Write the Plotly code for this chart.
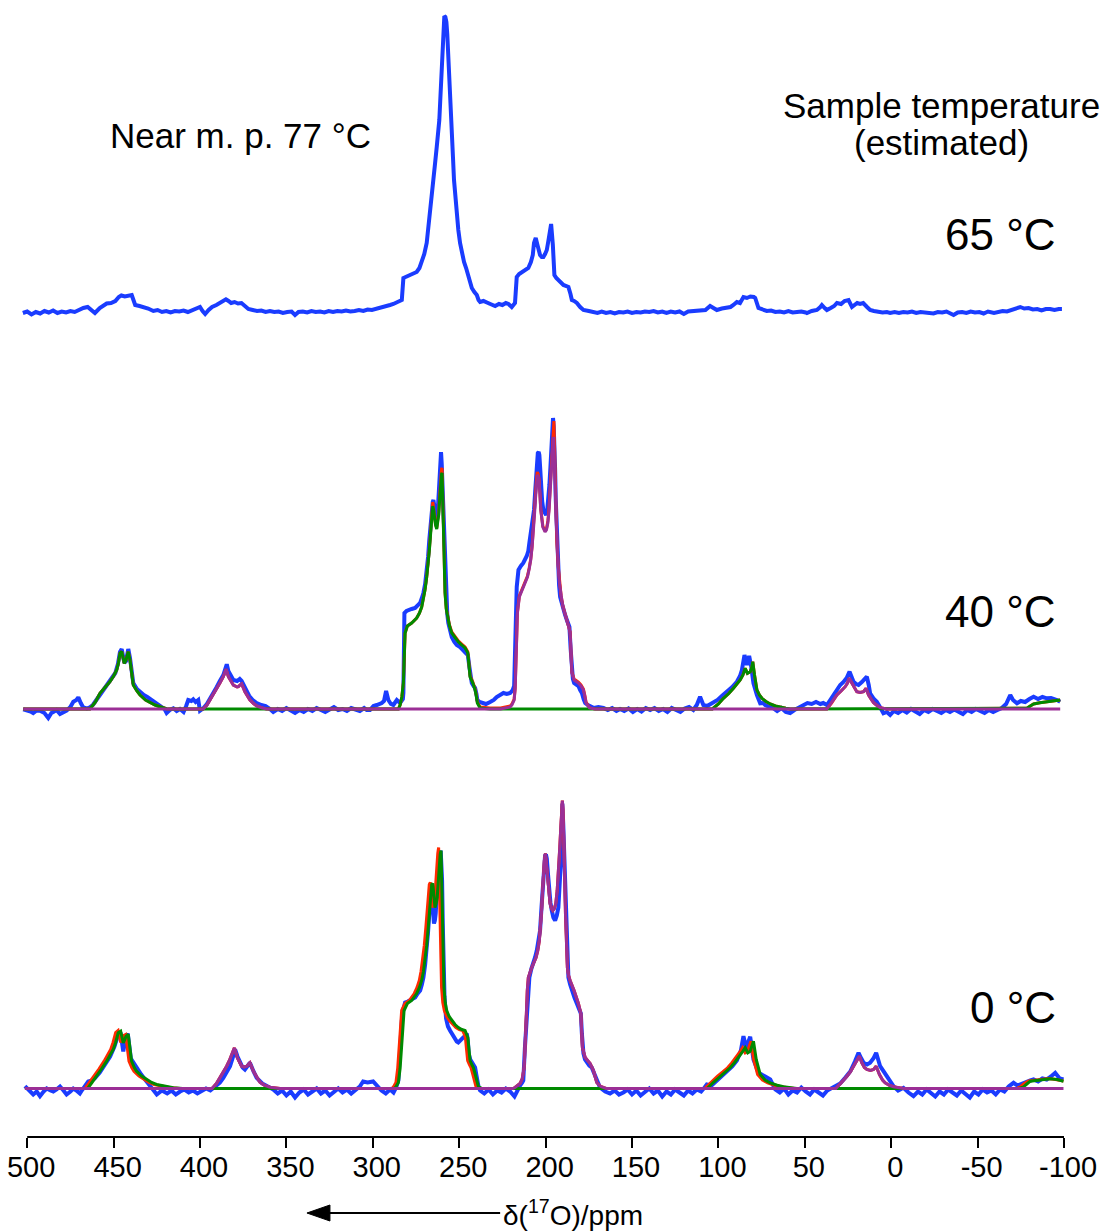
import plotly.graph_objects as go

# ---------------- data (ppm, intensity) ----------------
TICK_VALS = [500, 450, 400, 350, 300, 250, 200, 150, 100, 50, 0, -50, -100]
TICK_TEXT = ["500", "450", "400", "350", "300", "250", "200", "150", "100", "50", "0", "-50", "-100"]

# vertical offsets of the stacked spectra (same units as intensity)
OFFSETS = {"65": 825, "40": 428, "0": 48.5}
TEMPS = ["65 °C", "40 °C", "0 °C"]

# ---- 65 °C spectrum (experimental only) ----
TOP_BLUE = [
    (502.5, -1), (500, 0.5), (497.5, -2.5), (495, 0), (492.5, -1.5), (490, 1), (487.5, -0.5), (485, 1.5),
    (482.5, -1), (480, 0.5), (477.5, -0.5), (475, 1), (472.5, 0), (470, 2.5), (467.5, 4), (465, 5), (462.5, 2),
    (460.8, -1), (458, 4), (456, 6), (454, 8.5), (451.5, 9), (449, 11), (447, 15), (445.5, 16.5), (443.5, 15.5),
    (441.5, 16.5), (439.5, 17), (438.5, 12), (437.5, 7), (435, 6), (432.5, 5), (430, 3.5), (427, 1), (424.5, 2),
    (422, 0), (419.5, 1), (417, -0.5), (414.5, 1), (412, 0.5), (409.5, 1.5), (407, 0), (404.5, 2), (402, 3),
    (400, 5), (398.5, 1), (397, -2), (395, 2), (393, 5), (390.5, 7), (388.4, 9), (386.5, 11), (385, 12.7),
    (383.5, 11), (382, 9), (380, 10), (378, 8.5), (376, 9), (374, 6), (372, 3), (369.5, 2), (367, 1), (364.5, 1.5),
    (362, 0), (359.5, 1), (357, 0), (354.5, 0.5), (352, -1), (349.5, 0), (347, 0.5), (345, -3), (343, 0),
    (340.5, 0.5), (338, -0.5), (335.5, 1), (333, 0), (330.5, 0.5), (328, -0.5), (325.5, 1), (323, 0), (320.5, 1),
    (318, 0.5), (315.5, 1.5), (313, 0.5), (310.5, 1), (308, 2), (305.5, 1), (303, 2.5), (300.5, 2), (298, 3),
    (295.8, 3.7), (293.5, 5), (291.5, 5.5), (290, 7), (288.1, 8), (286, 10), (284.5, 11.5), (283.2, 12),
    (282.3, 34), (281, 35), (279.4, 36), (277, 38), (274.6, 40), (273, 44), (271.7, 50), (270.2, 58), (268.8, 69),
    (267.8, 84), (266.9, 99), (265.9, 116), (264.9, 132), (264, 148), (263, 165), (262.2, 178), (261.5, 192),
    (261, 210), (260.5, 232), (260.1, 252), (259.7, 272), (259.1, 288), (258.6, 296), (258, 295), (257.4, 290),
    (256.9, 278), (256.4, 262), (255.9, 240), (255.5, 219), (254.9, 198), (254.3, 179), (253.6, 155), (253, 132),
    (252.2, 112), (251.4, 95), (250.5, 82), (249.5, 69), (248.4, 58), (247.2, 50), (246, 44), (244.7, 37),
    (243.6, 30), (242.7, 24), (241.2, 20), (239.8, 17), (238.8, 12), (237.9, 10), (236, 11), (234, 9), (232, 8),
    (229.2, 6), (227, 8), (225, 7), (223, 9), (221.5, 8), (219.6, 5), (217.7, 9), (216.7, 35), (215.3, 38),
    (213.8, 40), (212, 42), (210, 44), (208.5, 50), (207.4, 57), (206.7, 69), (205.7, 74), (204.7, 67),
    (203.2, 57), (202.2, 55), (201.3, 55), (200.3, 58), (199.3, 62), (198.5, 70), (197.8, 80), (196.8, 88),
    (195.8, 67), (194.9, 37), (193.8, 34), (192.6, 32), (191, 30), (189.7, 27), (188, 26), (186.8, 25),
    (185.6, 18), (184.8, 12), (183.5, 11), (181.9, 9), (180, 5), (178.1, 2), (175, 1), (172.3, 0),
    (170, -1), (167.5, 0.5), (165, -1), (162.5, 0), (160, -1.5), (157.5, 0), (155, -0.5), (152.5, 0.5), (150, -1),
    (147.5, 0), (145, -0.5), (142.5, 0.5), (140, 0), (137.5, 1), (135, -0.5), (132.5, 0.5), (130, -1),
    (127.5, 0.5), (125, -0.5), (122.5, 0.5), (120, -2), (117.5, 0.5), (115, 1), (112.5, 0.5), (110, 1.5),
    (107.5, 2), (104.8, 6), (102.5, 3), (100.9, 2), (98, 3.5), (95.5, 4), (93, 5), (91.3, 7), (89.3, 10),
    (87.5, 9), (85.5, 15), (83.5, 14), (81.5, 15.5), (79.5, 15), (78.7, 14), (76.8, 4), (75, 3), (72, 1),
    (69.5, 1.5), (67, 0), (64.5, 0.5), (62, -0.5), (59.5, 1), (57, -0.5), (54.5, 0), (52, 0.5), (49.5, -0.5),
    (48.8, -1), (46, 1), (43, 2), (41, 5), (40.1, 7), (38.5, 4), (37.2, 2), (35, 4), (33, 6), (31.4, 9), (29, 8),
    (27, 11), (24.7, 12), (22.7, 5), (21, 7), (19.7, 9), (18, 8), (16.2, 9), (14, 5), (12.2, 2), (10, 1),
    (7.5, 0), (5, -0.5), (2.5, 0), (0.6, -1), (-2, 0), (-4.5, -1), (-7, 0), (-9.5, -0.5), (-12, 0.5), (-14.5, -1),
    (-17, 0), (-19.5, -0.5), (-22, 0), (-24.5, -1.5), (-27, 0), (-29.5, -0.5), (-32, 0.5), (-34, -1), (-36.1, -3),
    (-38.5, -0.5), (-41, 0), (-43.5, -1), (-46, 0.5), (-48.5, -0.5), (-51, 0), (-53.5, -1.5), (-56, 0.5),
    (-59.5, -1), (-62, 0.5), (-64.5, 1), (-67, 0.5), (-69.5, 2), (-72, 3), (-74.7, 5), (-77, 3.5), (-79.5, 4),
    (-82, 2.5), (-84.5, 3), (-87, 1.5), (-89.5, 3), (-92, 3), (-94.5, 2), (-97, 3), (-98.8, 3),
]

# ---- 40 °C spectrum ----
MID_BLUE = [
    (502.3, -0.3), (500, -1), (498, -2.5), (496.5, -4), (494.5, -1.5), (492.6, -1.7), (490, -4), (487.8, -9),
    (486, -4), (484.9, -3), (483, -1), (481, -5), (479, -3), (477.2, -1.7), (475, 2), (473.3, 7.3), (471.5, 9),
    (470.4, 11.7), (469, 6), (467.6, 1.7), (465.5, 0.5), (463.7, 1.7), (462, 4), (460, 9), (458, 14),
    (455.5, 20), (453, 26), (451, 31), (449, 36), (447.5, 45), (446.3, 57), (445.3, 60), (444.5, 52),
    (443.8, 46), (442.8, 48), (441.5, 60), (440.5, 51), (439.5, 38), (438.6, 26), (436.5, 20), (434.7, 17),
    (432.5, 14), (430.5, 12), (428.9, 10), (426.5, 8), (424.5, 5.5), (423.2, 4), (421.5, 2), (420.5, 0),
    (419.3, -4), (417.5, -1), (415.4, 0.7), (413.5, -2), (411.6, 0), (409.5, -3), (408, 3), (406.8, 9),
    (405, 8), (403.9, 9.7), (402.5, 7), (401, 9), (400, -1.7), (398.1, 0.7), (396, 5), (394.2, 10), (392, 16),
    (390.3, 22), (388.5, 28), (386.5, 34), (385.2, 41), (384.5, 44.7), (383.6, 38), (382, 33), (380.7, 29),
    (378.5, 28), (377, 30), (375.9, 28), (374, 22), (373, 18), (371.5, 13), (369.5, 9), (367.2, 6), (364.5, 4),
    (362, 3), (359.5, 0), (357.6, -3), (355, 0), (352.5, -2), (350, 1), (347.5, -1.5), (345, -4), (342.5, -1),
    (340, -3), (337.5, 0), (335, -2), (332.5, 1), (330, -1), (327.5, -3), (325, -0.5), (322.5, 2), (320, -1),
    (317.5, 0), (315, -2), (312.5, 1), (310, -0.5), (307.5, -2), (305, 1), (303.5, -1), (301.6, -1),
    (299.6, 3), (297.7, 4), (294.8, 6), (293.5, 8), (292.3, 18), (291, 9), (289.5, 5), (288.1, 4), (286.1, 9),
    (284.2, 6), (282.6, 10),
    (282.3, 16), (281.7, 96), (280.5, 98), (279.4, 99), (277.5, 100), (275.5, 101), (274, 104), (272.6, 106),
    (271.6, 111), (270.7, 116), (269.7, 125), (268.8, 136), (268, 152), (267.3, 169), (266.6, 185), (265.9, 199),
    (265.3, 207), (264.9, 209), (264.3, 203), (263.8, 196), (263.0, 186), (262.5, 195), (262.1, 209),
    (261.6, 232), (261.1, 254), (260.5, 257), (260.1, 245), (259.7, 226), (259.2, 190), (258.8, 159),
    (258.2, 130), (257.6, 109), (256.9, 95), (256.3, 86), (255.3, 78), (254.3, 72), (252.8, 67), (251.4, 64),
    (249.5, 62), (247.6, 59), (246.2, 56), (245, 54), (244.1, 42), (243.3, 32), (242.7, 26), (241.7, 23),
    (240.8, 21), (240, 15), (239.5, 9), (238.2, 7), (236.9, 6), (234.5, 5), (232.1, 7), (230, 9), (228.3, 12),
    (226, 14), (224.4, 16), (222.5, 15), (220.5, 16), (219, 19), (218.2, 23), (216.7, 122), (215.7, 139),
    (214.3, 143), (212.9, 146), (210.9, 153), (210, 158), (209.4, 166), (208.7, 174), (208, 182), (207.3, 191),
    (206.7, 199), (206, 218), (205.5, 236), (205, 248), (204.5, 256), (204, 257), (203.6, 254), (203.1, 240),
    (202.6, 223), (202, 208), (201.3, 199), (200.5, 195), (199.7, 194), (199, 200), (198.4, 209), (197.8, 224),
    (197.2, 242), (196.7, 265), (196.2, 286), (195.7, 291), (195.3, 283), (194.9, 269), (194.5, 240),
    (194.1, 209), (193.5, 175), (192.9, 142), (192.2, 124), (191.6, 112), (190.6, 105), (189.7, 99),
    (188.7, 94), (187.7, 89), (187, 86), (186.2, 82), (185.5, 60), (184.8, 39), (184.2, 30), (183.5, 26),
    (182.2, 24), (181, 23), (180, 19), (179, 16), (178, 10), (177.1, 6), (175.5, 4), (174.2, 3), (172, 1),
    (169.5, 2), (166.5, 1), (164, -1), (161.5, 1), (159, -2), (156.9, 0),
    (154.5, -2), (152, 0.5), (149.5, -3), (147, 0), (144.5, -2.5), (142, 1), (139.5, -1), (137, 1), (134.5, -2),
    (132, 0), (129.5, -3), (127, 1), (124.5, -1), (122, -3), (119.5, 0.5), (117, 2), (114.5, -1), (112.5, 4),
    (110.6, 12.3), (108.7, 4), (106.5, 3), (104.5, 5), (102.9, 7), (100.5, 9), (98, 13), (95.1, 17.3), (92, 22),
    (89.3, 27.3), (87.5, 33), (86.4, 39), (84.9, 54), (83.5, 44), (82.2, 53), (81, 42.3), (79.7, 25.7),
    (77.7, 14), (75.8, 5.7), (74, 6), (72.9, 4), (70.5, 2), (68.1, 0.7), (66, -2), (63.5, 1), (61, -3),
    (58.5, -4), (56, -1), (53.5, 1), (51, 4), (48.5, 6), (46, 5), (43.5, 7), (41, 5), (39.3, 6), (37.2, 4),
    (35.3, 9), (33.5, 15), (31.4, 20.7), (29.5, 24), (27.6, 27), (25.8, 31), (24.1, 37.3), (23, 32),
    (21.8, 27.3), (20.3, 25), (18.9, 24), (17, 27), (15.5, 30), (14.1, 32.3), (13, 24), (12.2, 15.7), (10, 10),
    (8.3, 7.3), (6.5, 2), (4.5, -4.3), (2.5, -3), (0.6, -6), (-1.5, -2), (-4, -4), (-6.5, -1), (-9, -3.5),
    (-11.5, 0), (-14, -2), (-16.5, -5), (-19, -1), (-21.5, -3), (-24, 0), (-26.5, -2), (-29, -4), (-31.5, -1),
    (-34, -3), (-36.5, -0.5), (-39, -2.5), (-41.5, -5), (-44, -1), (-46.5, -3), (-49, 0), (-51.5, -2),
    (-54, -4), (-56.5, -1), (-59, -3), (-61.5, -1), (-64, 1), (-66.5, 5), (-68.9, 14), (-70.5, 9),
    (-72.8, 5.7), (-75, 8), (-77.5, 7), (-80, 10), (-82.4, 12.3), (-85, 10), (-87.5, 12), (-90.1, 10.7),
    (-92.5, 11), (-95.9, 9), (-97.8, 7.3),
]
MID_RANGE = (502.3, -97.8)

# site 1 fit components (green), 40 °C
MID_G_450 = [
    (463.7, 0), (460.5, 7), (457.9, 15.7), (455, 21.5), (452.1, 27.3), (450, 33), (448.2, 39), (447.2, 46),
    (446.3, 55.7), (445.3, 57.3), (444.5, 50), (443.8, 45.7), (442.8, 49), (442, 54), (441.5, 57.3),
    (440.5, 49), (439.5, 35), (438.6, 24), (436.5, 18), (434.7, 14), (431.5, 9), (428.9, 6.3), (426, 4),
    (423.2, 2.3), (419.3, 0.3), (415, 0),
]
MID_G_260 = [
    (285.2, 0), (284.2, 4), (283.2, 12), (282.3, 26), (281.8, 50), (281.3, 76), (280.0, 83), (277.5, 86),
    (274.6, 91), (273, 96), (271.7, 102), (270.7, 110), (269.8, 119), (268.8, 132), (267.9, 146), (267.2, 160),
    (266.5, 176), (265.8, 192), (265.3, 203), (264.8, 199), (264.4, 192), (263.7, 184), (263.0, 180),
    (262.4, 186), (261.8, 195), (261.2, 212), (260.7, 229), (260.2, 235), (259.9, 236), (259.5, 210),
    (259.2, 176), (258.7, 145), (258.2, 116), (257.5, 100), (256.8, 92), (255.6, 83), (254.3, 76), (252.4, 71),
    (250.5, 67), (248.5, 64), (246.6, 61), (245.6, 58), (245, 56), (244.4, 45), (243.7, 32), (242.1, 26),
    (240.8, 19), (240, 12), (239.5, 6), (237.9, 1), (232.1, 0),
]
MID_G_85 = [
    (103.5, 0), (100, 5), (97.1, 10.7), (94, 15.5), (91.3, 20.7), (89, 25), (87.4, 29), (85.8, 34), (84.5, 40.7),
    (83.2, 35.7), (81.6, 37.3), (80.6, 42), (80.1, 47.3), (79.1, 34), (77.7, 19), (76.3, 14), (74.8, 10.7),
    (72.5, 7.5), (70, 5), (67, 3), (64.3, 1.7), (61, 0.7), (58.5, 0),
]
MID_G_TAIL = [(-76, 0), (-78.5, 0.7), (-80.5, 3), (-82.4, 5), (-86, 6.2), (-90.1, 7.3), (-93.5, 8), (-96.8, 9), (-97.8, 9)]

# site 2 fit components (purple), 40 °C
MID_P_380 = [
    (398.1, 0), (396, 4), (394.2, 9), (392, 15), (390.3, 20.7), (388.3, 26.5), (386.5, 32.3), (384.9, 39.7),
    (383.6, 32.3), (382, 27), (380.7, 24), (378.5, 22), (377.8, 22.3), (376.8, 24), (375.9, 25), (374, 17.3),
    (372.5, 12.5), (371.1, 9), (369, 5.5), (367.2, 3), (364, 1), (361.4, 0),
]
MID_P_200 = [
    (226, 0), (222.5, 1), (220.5, 2), (219.5, 4), (218.2, 9), (217.6, 20), (217.1, 42), (216.6, 75), (216.3, 96),
    (215.2, 112), (212.9, 122), (210.5, 132), (209.5, 140), (208.6, 149), (207.8, 162), (207.1, 176),
    (206.5, 192), (205.9, 209), (205.3, 225), (204.8, 234), (204.3, 233), (203.8, 229), (203.3, 215),
    (202.8, 199), (201.6, 182), (200.3, 177), (199.5, 179), (198.7, 186), (198, 198), (197.4, 216), (196.8, 238),
    (196.2, 259), (195.6, 270), (195.3, 272), (194.9, 255), (194.5, 226), (194, 195), (193.5, 166), (192.7, 142),
    (192, 126), (191, 112), (190, 102), (188.8, 95), (187.7, 89), (186.7, 83), (185.8, 76), (185.3, 55),
    (184.8, 36), (183.5, 29), (181, 26), (179.5, 23), (178.1, 19), (177.2, 12), (176.6, 6), (174.6, 1), (171.3, 0),
]
MID_P_20 = [
    (37.2, 0), (34.5, 6), (31.4, 14), (29, 18), (26.6, 22.3), (25.3, 26), (24.3, 30.7), (22.7, 25.7), (21.3, 21),
    (19.9, 17.3), (18, 16.5), (16, 17.3), (14.6, 20.7), (13.1, 14), (11.5, 9.5), (10.2, 6.3), (8.2, 3.5),
    (6.4, 1.3), (2.5, 0),
]
# total fit (red), 40 °C: regions where it differs visibly from the components
MID_R_260 = [
    (285.2, 0), (284.2, 4), (283.2, 12), (282.3, 26), (281.8, 50), (281.3, 76), (280.0, 83), (277.5, 86),
    (274.6, 91), (273, 96), (271.7, 102), (270.7, 110), (269.8, 119), (268.8, 132), (267.9, 146), (267.2, 161),
    (266.5, 178), (265.8, 196), (265.3, 207), (264.8, 201), (264.4, 193), (263.7, 185), (263.0, 181),
    (262.4, 188), (261.8, 198), (261.2, 216), (260.7, 233), (260.2, 240), (259.9, 241), (259.5, 212),
    (259.2, 177), (258.7, 146), (258.2, 117), (257.5, 101), (256.8, 93), (255.6, 84), (254.3, 77), (252.4, 72),
    (250.5, 68), (248.5, 65), (246.6, 62), (245.6, 59), (245, 57), (244.4, 46), (243.7, 33), (242.1, 27),
    (240.8, 20), (240, 13), (239.5, 7), (237.9, 2), (232.1, 1),
]
MID_R_200 = [
    (226, 1), (222.5, 2), (220.5, 3), (219.5, 5), (218.2, 10), (217.6, 21), (217.1, 43), (216.6, 76), (216.3, 97),
    (215.2, 113), (212.9, 123), (210.5, 133), (209.5, 141), (208.6, 150), (207.8, 163), (207.1, 178),
    (206.5, 195), (205.9, 213), (205.3, 229), (204.8, 237), (204.3, 235), (203.8, 230), (203.3, 216),
    (202.8, 200), (201.6, 183), (200.3, 178), (199.5, 180), (198.7, 188), (198, 201), (197.4, 220),
    (196.8, 244), (196.2, 268), (195.6, 284), (195.2, 288), (194.8, 262), (194.4, 230), (194, 196),
    (193.5, 167), (192.7, 143), (192, 127), (191, 113), (190, 103), (188.8, 96), (187.7, 90), (186.7, 84),
    (185.8, 77), (185.3, 56), (184.8, 37), (183.5, 30), (181, 27), (179.5, 24), (178.1, 20), (177.2, 13),
    (176.6, 7), (174.6, 1), (171.3, 0),
]

# ---- 0 °C spectrum ----
BOT_BLUE = [
    (501.3, 2.3), (499, -2), (496.5, -6), (494.5, -3), (492.6, -7.7), (490.5, -3), (488.7, 0), (486.5, -2),
    (484.9, -3), (483, -1), (481, 2), (479, -2), (477.2, -6), (475, -3), (473.3, 0), (471.5, -2), (469.5, -5),
    (468, -1), (466.6, 2), (464.7, 7), (462.5, 8), (461, 10), (458, 16), (455, 24), (452, 32), (449.5, 42),
    (447.3, 54), (446, 56), (444.4, 37), (443, 50), (441.8, 55), (440, 30), (437, 21), (434, 14), (431, 7.3),
    (429, 3), (427.5, 0), (425, -6), (422, -2), (419, -5), (416.5, -2), (414, -6), (411.5, -3), (409, -1),
    (406.5, -4), (404, -2), (401.5, -5), (399, -3), (396.5, 0), (394, -2), (392, 1), (390.3, 2.3), (388.5, 6),
    (386.5, 10.7), (384.5, 16), (382.6, 22.3), (381, 31), (379.7, 39), (378.3, 32), (376.8, 25.7), (375.3, 21),
    (374, 19), (372.5, 22), (371.1, 25.7), (369, 17), (367.2, 10.7), (364, 5), (361.4, 2.3), (359.5, 1),
    (357.6, -1), (355, -5), (352.5, -2), (350, -7), (347.5, -3), (345, -9), (342.5, -4), (340, -1), (337.5, -6),
    (335, -3), (332.5, 0), (330, -5), (327.5, -2), (325, -7), (322.5, -3), (320, 0), (317.5, -4), (315, -1),
    (312.5, -5), (310, -2), (307.5, 2), (305.6, 7), (303, 6), (299.8, 7), (297.5, 2), (295, -2), (292.5, -5),
    (290, -1), (288, -4), (286.5, 1),
    (285.2, 8), (284.2, 38), (283.2, 68), (282.2, 80), (281.3, 86), (279.8, 87), (278.4, 88), (277, 90),
    (275.5, 91), (274, 95), (272.6, 98), (271.6, 104), (270.7, 111), (269.7, 124), (268.8, 138), (268, 157),
    (267.3, 175), (266.6, 190), (265.9, 198), (265.2, 180), (264.6, 165), (264.1, 168), (263.6, 175), (263, 193),
    (262.4, 211), (261.9, 221), (261.5, 228), (261.1, 234), (260.7, 238), (260.3, 226), (259.9, 208),
    (259.5, 165), (259.2, 121), (258.5, 92), (257.6, 70), (256.5, 62), (255.3, 58), (253.8, 53), (252.4, 50),
    (251.4, 47), (250.5, 46), (249, 48), (247.6, 51), (246.6, 53), (245.6, 55), (245, 48), (244.5, 35),
    (243.6, 29), (242.7, 26), (241.7, 23), (240.8, 21), (240.1, 14), (239.5, 6), (238.7, 1), (237.9, -2),
    (235.5, -5), (233, -1), (230.5, -6), (228, -2), (225.5, -4), (223, 0), (220.5, -3), (218, -8), (216.5, -2),
    (214.8, 3), (213.5, 6), (212.9, 8), (212, 40), (210.9, 75), (210.2, 95), (209.4, 111), (208.2, 120),
    (207.1, 125), (206.1, 131), (205.1, 138), (204.1, 148), (203.2, 158), (202.4, 180), (201.6, 201),
    (200.9, 222), (200.3, 233), (199.8, 234), (199.3, 230), (198.6, 214), (198, 198), (197.2, 186), (196.4, 178),
    (195.5, 171), (194.5, 168), (193.5, 173), (192.6, 181), (191.9, 200), (191.2, 225), (190.7, 258),
    (190.3, 285), (189.8, 265), (189.3, 241), (188.7, 200), (188.1, 158), (187.5, 130), (186.8, 111),
    (185.8, 104), (184.8, 98), (183.3, 91), (181.9, 85), (180.7, 79), (179.6, 75), (179, 55), (178.1, 35),
    (177.2, 29), (176.2, 26), (174.7, 23), (173.3, 21), (171.8, 15), (170.4, 11), (169.4, 5), (168.5, 1),
    (165.5, -3), (162.7, -5), (160, -2), (157.5, -6), (155, -4),
    (152.5, -1), (150, -6), (147.5, -2), (145, -7), (142.5, -3), (140, 0), (137.5, -5), (135, -2), (132.5, -8),
    (130, -3), (127.5, -6), (125, -1), (122.5, -4), (120, -7), (117.5, -2), (115, -5), (112.5, -1), (110, -3),
    (108, 1), (106.7, 4), (104, 3), (100.9, 8), (98, 12), (95.1, 17), (92, 22), (89.3, 28), (87, 38),
    (85.5, 52.3), (83.9, 40.7), (81.6, 51.7), (79.7, 29), (76.8, 15.7), (74.5, 13), (72.9, 12), (70, 9),
    (67.1, -1), (64.5, -4), (62, 0), (59.5, -6), (57, -2), (54.5, -4), (52, 1), (49.5, -3), (47, -6), (44.5, -1),
    (42, -4), (39.5, -7), (37, -2), (34.5, 0), (32, 2), (29.5, 5), (26.5, 11), (23.7, 17), (21, 27),
    (18.9, 35.7), (17.3, 30), (16, 25.7), (14, 24), (12.2, 25.7), (10.3, 30), (8.7, 35.7), (6.4, 22.3),
    (4.5, 17), (2.5, 12.3), (0.5, 6), (-1.3, 2.3), (-4, -2), (-7.1, 0.7), (-10, -4), (-12.9, -7.7), (-15.5, -3),
    (-18, -6), (-20.5, -1), (-23, -5), (-25.5, -8), (-28, -3), (-30.5, -6), (-33, -1), (-35.5, -4), (-38, -7),
    (-40.5, -2), (-43, -5), (-45.5, -9), (-48, -3), (-50.5, -6), (-53, -1), (-55.5, -4), (-58, -2), (-60.5, -6),
    (-63, -1), (-65.5, -3), (-68, 2), (-70.8, 5.7), (-73, 3), (-75.5, 5), (-78, 6), (-80.5, 8), (-82.4, 9),
    (-85, 7), (-87.5, 10), (-90, 9), (-92.5, 12), (-94.9, 15.7), (-97.5, 10), (-99.7, 9),
]
BOT_RANGE = (501.3, -99.7)

BOT_G_450 = [
    (465, 0), (462.5, 6), (459.8, 12.3), (457, 19.5), (454, 27.3), (452, 33), (450.2, 39), (448.8, 46),
    (447.3, 55.7), (445.9, 57.3), (445, 51), (444.4, 45.7), (443.5, 49), (442.8, 52.3), (441.5, 54), (440.5, 40),
    (439.6, 27.3), (438, 21), (436.7, 17.3), (433.8, 12.5), (430.9, 9), (428, 6), (425.1, 4), (422, 2.7),
    (419.3, 1.7), (415.4, 0.7), (410, 0),
]
BOT_G_260 = [
    (287.5, 0), (286.5, 2), (285.2, 6), (284.2, 20), (283.2, 41), (282.6, 60), (281.9, 78), (280.0, 85),
    (277.5, 88), (274.6, 95), (273, 101), (271.7, 108), (270.7, 117), (269.8, 128), (268.8, 143), (267.9, 161),
    (267.2, 180), (266.5, 198), (265.9, 204), (265.3, 205), (264.6, 193), (264.0, 181), (263.3, 185),
    (262.7, 191), (262.1, 207), (261.5, 225), (261, 234), (260.5, 238), (260.1, 215), (259.7, 175), (259.2, 132),
    (258.8, 101), (258.1, 86), (257.2, 78), (255.8, 72), (254.3, 68), (252.4, 64), (250.5, 61), (248.5, 59),
    (246.6, 58), (245.8, 55), (245, 51), (244.4, 40), (243.7, 28), (242.7, 24), (241.8, 21), (241, 16),
    (240.2, 11), (238.9, 2), (236.8, 0),
]
BOT_G_85 = [
    (106.5, 0), (103, 6), (99, 12.3), (96, 16.5), (93.2, 20.7), (90.8, 25.5), (88.4, 30.7), (86.5, 35.5),
    (84.5, 40.7), (83, 35.7), (81.6, 37.3), (80.3, 44), (79.7, 47.3), (78.1, 29), (76.8, 19), (75.8, 14),
    (73, 8.5), (70, 5.7), (66, 3.3), (62.3, 1.7), (58, 0.7), (54.6, 0),
]
BOT_G_TAIL = [(-74, 0), (-76.6, 1.7), (-78.5, 4.5), (-80.5, 7.3), (-85, 8.3), (-92, 9.7), (-96, 9), (-99.7, 7.3)]

BOT_R_450 = [
    (466.5, 0), (464, 6), (461.3, 12.3), (458.5, 19.5), (455.5, 27.3), (453.5, 33), (451.7, 39), (450.3, 46),
    (448.8, 56), (447.4, 58), (446.5, 51), (445.9, 46), (445, 49.5), (444.3, 53), (443, 54), (442, 40),
    (441.1, 27.3), (439.5, 21), (438.2, 17.3), (435.3, 12.5), (432.4, 9), (429.5, 6), (426.6, 4), (423.5, 2.7),
    (420.8, 1.7), (416.9, 0.7), (411.5, 0),
]
BOT_R_260 = [
    (288.9, 0), (287.9, 2), (286.6, 6), (285.6, 20), (284.6, 41), (284, 60), (283.3, 78), (281.4, 85),
    (278.9, 88), (276, 95), (274.4, 101), (273.1, 108), (272.1, 117), (271.2, 128), (270.2, 143), (269.3, 161),
    (268.6, 180), (267.9, 198), (267.3, 204), (266.7, 206), (266, 193), (265.4, 181), (264.7, 185),
    (264.1, 191), (263.5, 207), (262.9, 225), (262.4, 235), (261.9, 241), (261.5, 215), (261.1, 175),
    (260.6, 132), (260.2, 101), (259.5, 86), (258.6, 78), (257.2, 72), (255.7, 68), (253.8, 64), (251.9, 61),
    (249.9, 59), (248, 58), (247.2, 55), (246.4, 51), (245.8, 40), (245.1, 28), (244.1, 24), (243.2, 21),
    (242.4, 16), (241.6, 11), (240.3, 2), (238.2, 0),
]
BOT_R_85 = [
    (108, 0), (104.5, 6), (100.5, 12.3), (97.5, 16.5), (94.7, 20.7), (92.3, 25.5), (89.9, 30.7), (88, 35.5),
    (86, 40.7), (84.5, 35.7), (83.1, 37.3), (81.8, 44), (81.2, 47.3), (79.6, 29), (78.3, 19), (77.3, 14),
    (74.5, 8.5), (71.5, 5.7), (67.5, 3.3), (63.8, 1.7), (59.5, 0.7), (56, 0),
]
BOT_R_TAIL = [(-72.5, 0), (-75, 2), (-77, 5), (-79.5, 7.5), (-84, 8.5), (-91, 10), (-95, 9), (-99.7, 7.5)]

BOT_P_380 = [
    (393, 0), (390.5, 5), (388.4, 10.7), (386.5, 16.5), (384.6, 22.3), (383, 28), (381.7, 34), (380.1, 40.7),
    (378.4, 30.7), (377, 25), (375.9, 22.3), (374.5, 21.5), (373, 22.3), (372, 24), (371.1, 25.7), (369.1, 17.3),
    (367, 10.5), (365.3, 6.3), (362.5, 3), (359.5, 1.3), (353.7, 0),
]
BOT_P_200 = [
    (219, 0), (217.7, 1), (216, 3), (214.8, 5), (213.5, 10), (212.4, 21), (211.8, 45), (211.3, 75), (210.6, 98),
    (210, 111), (208, 121), (205.5, 131), (204.5, 138), (203.6, 148), (202.9, 163), (202.2, 181), (201.7, 199),
    (201.3, 215), (200.7, 228), (200.1, 235), (199.6, 226), (199, 211), (198.2, 193), (197.4, 185), (196.6, 180),
    (195.8, 178), (194.9, 180), (194.1, 185), (193.3, 198), (192.6, 215), (191.9, 238), (191.2, 261),
    (190.7, 278), (190.3, 288), (189.9, 278), (189.5, 258), (189, 215), (188.5, 175), (187.9, 142), (187.4, 121),
    (186.7, 113), (185.8, 108), (183.5, 98), (181, 85), (179.6, 75), (179.1, 58), (178.7, 41), (177.1, 31),
    (174.2, 25), (172.3, 18), (171.3, 11), (170.4, 6), (168.1, 2), (165, 0),
]
BOT_P_20 = [
    (32, 0), (29, 5.5), (25.6, 12.3), (23.5, 17), (21.8, 22.3), (19.9, 27.3), (18.4, 32.3), (17, 25.7),
    (15.5, 21), (14.1, 19), (12, 18), (10.2, 19), (8.7, 22.3), (6.8, 14), (5, 8.5), (3.5, 5.7), (1, 3),
    (-1.3, 1.7), (-7.1, 0),
]

BLUE = "#1a3cff"
RED = "#ff2a00"
GREEN = "#008a00"
PURPLE = "#9b2f96"
FONT = "Liberation Sans, Arial, Helvetica, sans-serif"


def line(points, offset, color, width):
    return go.Scatter(
        x=[p[0] for p in points], y=[p[1] + offset for p in points],
        mode="lines", line=dict(color=color, width=width), hoverinfo="skip", showlegend=False,
    )


def ends(rng):
    return [(rng[0], 0)], [(rng[1], 0)]


fig = go.Figure()

# 65 °C
fig.add_trace(line(TOP_BLUE, OFFSETS["65"], BLUE, 4))

# 40 °C
s, e = ends(MID_RANGE)
off = OFFSETS["40"]
fig.add_trace(line(MID_BLUE, off, BLUE, 4))
fig.add_trace(line(s + MID_G_450 + MID_P_380 + MID_R_260 + MID_R_200 + MID_G_85 + MID_P_20 + MID_G_TAIL, off, RED, 3))
fig.add_trace(line(s + MID_G_450 + MID_G_260 + MID_G_85 + MID_G_TAIL, off, GREEN, 3))
fig.add_trace(line(s + MID_P_380 + MID_P_200 + MID_P_20 + e, off, PURPLE, 3))

# 0 °C
s, e = ends(BOT_RANGE)
off = OFFSETS["0"]
fig.add_trace(line(BOT_BLUE, off, BLUE, 4))
fig.add_trace(line(s + BOT_R_450 + BOT_P_380 + BOT_R_260 + BOT_P_200 + BOT_R_85 + BOT_P_20 + BOT_R_TAIL, off, RED, 3))
fig.add_trace(line(s + BOT_G_450 + BOT_G_260 + BOT_G_85 + BOT_G_TAIL, off, GREEN, 3))
fig.add_trace(line(s + BOT_P_380 + BOT_P_200 + BOT_P_20 + e, off, PURPLE, 3))

# plot area height in px (1 intensity unit = 1 px)
PLOT_H = 1129
ARROW_Y = -76 / PLOT_H

ann_font = dict(family=FONT, color="black")
annotations = [
    dict(x=453.0, y=1001.5, xref="x", yref="y", text="Near m. p. 77 °C", showarrow=False,
         xanchor="left", yanchor="middle", font=dict(size=35, **ann_font)),
    dict(x=-28.9, y=1031.5, xref="x", yref="y", text="Sample temperature", showarrow=False,
         xanchor="center", yanchor="middle", font=dict(size=35, **ann_font)),
    dict(x=-28.9, y=994.5, xref="x", yref="y", text="(estimated)", showarrow=False,
         xanchor="center", yanchor="middle", font=dict(size=35, **ann_font)),
]
for label, ycen in zip(TEMPS, [902.5, 525.5, 130]):
    annotations.append(dict(x=-96.6, y=ycen, xref="x", yref="y", text=label, showarrow=False,
                            xanchor="right", yanchor="middle", font=dict(size=44, **ann_font)))
annotations.append(dict(x=184.4, y=ARROW_Y, xref="x", yref="paper", text="δ(<sup>17</sup>O)/ppm",
                        showarrow=False, xanchor="center", yanchor="middle", font=dict(size=28, **ann_font)))

shapes = [
    # x axis line between the end ticks
    dict(type="line", xref="x", yref="paper", x0=500, x1=-100, y0=0, y1=0,
         line=dict(color="black", width=2)),
    # direction arrow under the axis title
    dict(type="line", xref="x", yref="paper", x0=326.0, x1=226.3, y0=ARROW_Y, y1=ARROW_Y,
         line=dict(color="black", width=2)),
    dict(type="path", xref="x", yref="paper", xsizemode="pixel", ysizemode="pixel",
         xanchor=338.1, yanchor=ARROW_Y, path="M0,0 L23,8 L23,-8 Z",
         fillcolor="black", line=dict(color="black", width=1)),
]

fig.update_layout(
    width=1106, height=1232, autosize=False,
    margin=dict(l=22, r=42, t=8, b=1232 - 8 - PLOT_H, autoexpand=False),
    paper_bgcolor="white", plot_bgcolor="white",
    showlegend=False,
    annotations=annotations,
    shapes=shapes,
    xaxis=dict(range=[503, -100], showgrid=False, zeroline=False, showline=False, automargin=False,
               ticks="outside", ticklen=10, tickwidth=2, tickcolor="black",
               tickvals=TICK_VALS, ticktext=TICK_TEXT, ticklabelstandoff=-6, ticklabelshift=-4,
               ticklabeloverflow="allow",
               tickfont=dict(family=FONT, size=29, color="black")),
    yaxis=dict(range=[0, PLOT_H], visible=False, fixedrange=True, automargin=False),
)

# remove the browser's default 8 px page margin so the figure fills the window exactly
fig.write_html("out.html", config={"displayModeBar": False},
               post_script="document.body.style.margin='0px';")
